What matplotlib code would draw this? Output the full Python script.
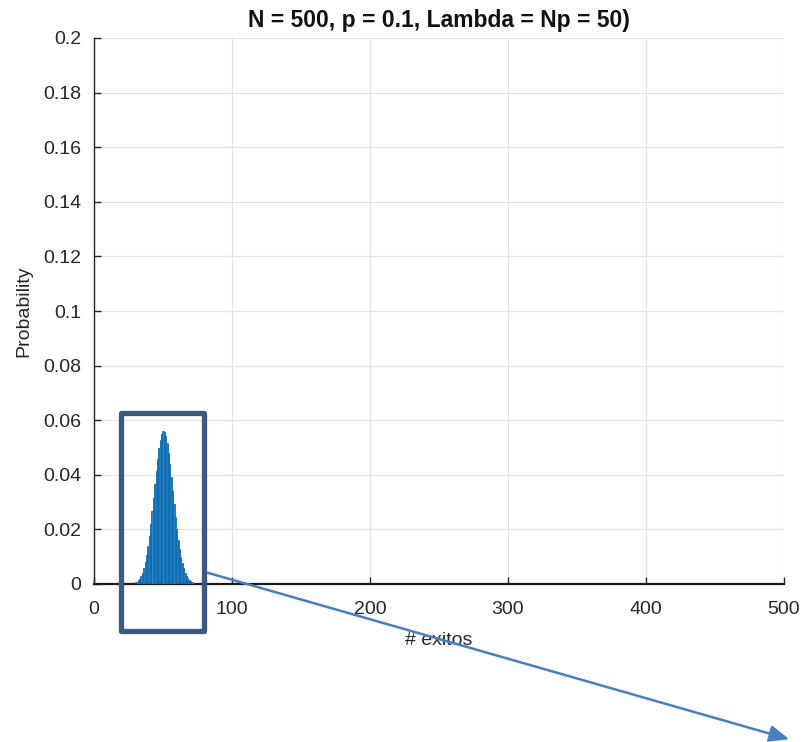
import matplotlib
matplotlib.use("Agg")
import matplotlib.pyplot as plt
from matplotlib.patches import Rectangle, FancyArrowPatch

plt.rcParams['font.family'] = ['Liberation Sans', 'DejaVu Sans']

k_values = list(range(30, 73))
probabilities = [
    0.0006, 0.0009, 0.0013, 0.0019, 0.0028, 0.0040, 0.0057, 0.0079, 0.0106, 0.0139,
    0.0177, 0.0220, 0.0267, 0.0316, 0.0366, 0.0414, 0.0459, 0.0498, 0.0529, 0.0551,
    0.0562, 0.0558, 0.0543, 0.0517, 0.0481, 0.0438, 0.0391, 0.0341, 0.0292, 0.0245,
    0.0202, 0.0163, 0.0129, 0.0100, 0.0076, 0.0057, 0.0042, 0.0030, 0.0021, 0.0015,
    0.0010, 0.0007, 0.0005,
]
x_ticks = [0, 100, 200, 300, 400, 500]
y_ticks = [0, 0.02, 0.04, 0.06, 0.08, 0.1, 0.12, 0.14, 0.16, 0.18, 0.2]
y_ticklabels = ['0', '0.02', '0.04', '0.06', '0.08', '0.1', '0.12', '0.14', '0.16', '0.18', '0.2']

W, H = 806, 742
fig = plt.figure(figsize=(W / 100, H / 100), dpi=100)
ax = fig.add_axes([94 / W, 1 - 584 / H, (784 - 94) / W, (584 - 38) / H])

ax.bar(k_values, probabilities, width=0.8, color='#2d8bd0', edgecolor='#0b6aae', linewidth=0.6, zorder=3)

ax.set_xlim(0, 500)
ax.set_ylim(0, 0.2)
ax.set_xticks(x_ticks)
ax.set_yticks(y_ticks)
ax.set_yticklabels(y_ticklabels)
ax.grid(True, color='#e3e3e3', linewidth=0.9, zorder=0)
ax.set_axisbelow(True)
for s in ['top', 'right']:
    ax.spines[s].set_visible(False)
for s in ['left', 'bottom']:
    ax.spines[s].set_color('#262626')
    ax.spines[s].set_linewidth(1.0)
ax.spines['bottom'].set_linewidth(1.6)
ax.spines['bottom'].set_color('#1a1a1a')
ax.tick_params(direction='in', length=5, width=1.0, colors='#262626', labelsize=14)
ax.tick_params(axis='y', pad=9)
ax.tick_params(axis='x', pad=12)

ax.set_title('N = 500, p = 0.1, Lambda = Np = 50)', fontsize=16.5, fontweight='bold', color='#111111', pad=8)
ax.set_xlabel('# exitos', fontsize=14, color='#262626', labelpad=10)
ax.set_ylabel('Probability', fontsize=14, color='#262626', labelpad=8)

# Overlay annotations (figure pixel coords)
def fx(px):
    return px / W

def fy(py):
    return 1 - py / H

rect = Rectangle((fx(121), fy(631)), (204 - 121) / W, (631 - 413) / H, transform=fig.transFigure,
                 fill=False, edgecolor='#3a5a85', linewidth=3.8, joinstyle='round', zorder=10)
fig.patches.append(rect)

arrow = FancyArrowPatch((fx(205), fy(572)), (fx(792), fy(740)), transform=fig.transFigure,
                        arrowstyle='-|>,head_length=12,head_width=5', color='#4a7ec0', linewidth=1.8,
                        mutation_scale=1, zorder=10)
fig.patches.append(arrow)

fig.savefig('out.png', dpi=100)
